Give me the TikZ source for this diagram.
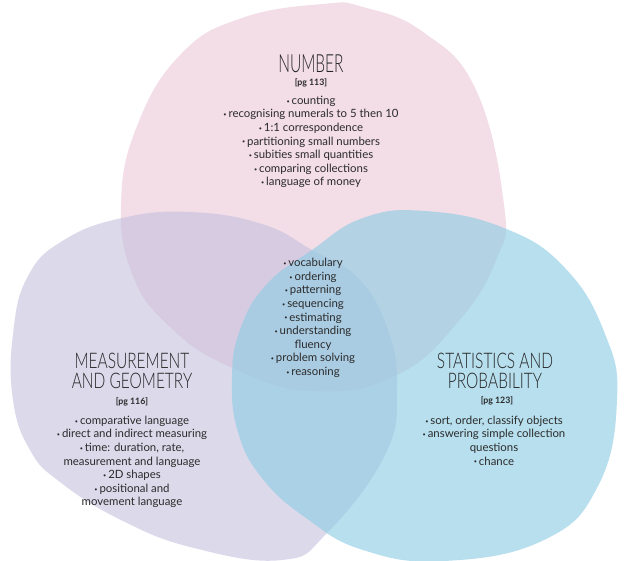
\documentclass[tikz,border=0pt]{standalone}
\usepackage{fontspec}
\setmainfont{Lato}
\newfontfamily\titlefont[FakeStretch=0.72]{Lato Light}
\newfontfamily\titlefontn[FakeStretch=0.62]{Lato Light}
\definecolor{pinkc}{HTML}{F3DDE7}
\definecolor{purpc}{HTML}{C5C0DE}
\definecolor{bluec}{HTML}{91CEE5}
\definecolor{ink}{HTML}{2B2B2B}
\newcommand\bu{{\fontsize{5.5}{5}\selectfont\raisebox{1.2pt}{•}}\,}
\tikzset{
  items/.style={align=center, text=ink, inner sep=0pt, font=\fontsize{11.4}{13.6}\selectfont},
  ttl/.style={align=center, text=black!85, inner sep=0pt, font=\titlefont\fontsize{21.5}{20}\selectfont},
  bigttl/.style={ttl, font=\titlefontn\fontsize{25}{25}\selectfont},
  pg/.style={text=ink, inner sep=0pt, font=\bfseries\fontsize{8.8}{10}\selectfont},
}
\begin{document}
\begin{tikzpicture}[x=1pt,y=-1pt]
\useasboundingbox[fill=white] (0,0) rectangle (634,560);
% blobs
\path[fill=pinkc] plot[smooth cycle, tension=0.75] coordinates {
 (323,4) (363,7) (423,32) (476,90) (504,205) (497,258) (458,322) (395,376)
 (310,391) (226,365) (169,326) (133,276) (121,205) (137,126) (181,54) (242,18)};
\path[fill=purpc, fill opacity=0.6] plot[smooth cycle, tension=0.75] coordinates {
 (190,212) (262,224) (312,250) (358,278) (388,330) (397,390) (385,455) (327,533)
 (282,560) (194,548) (121,520) (60,482) (30,450) (13,400) (13,334) (28,276) (64,240) (122,218)};
\path[fill=bluec, fill opacity=0.65] plot[smooth cycle, tension=0.75] coordinates {
 (425,211) (504,228) (565,268) (605,334) (617,400) (598,486) (544,540) (444,561)
 (363,550) (306,518) (262,478) (238,432) (232,378) (240,330) (266,285) (312,250) (363,218)};
% NUMBER
\node[bigttl] (tnum) at (311,64) {NUMBER};
\node[pg] (pnum) at (311,82.7) {[pg 113]};
\node[items] (inum) at (311,142) {\bu counting\\ \bu recognising numerals to 5 then 10\\ \bu 1:1 correspondence\\ \bu partitioning small numbers\\ \bu subities small quantities\\ \bu comparing collections\\ \bu language of money};
% centre
\node[items] (icen) at (313,318) {\bu vocabulary\\ \bu ordering\\ \bu patterning\\ \bu sequencing\\ \bu estimating\\ \bu understanding\\ fluency\\ \bu problem solving\\ \bu reasoning};
% MEASUREMENT
\node[ttl] (tmea) at (132,371) {MEASUREMENT\\AND GEOMETRY};
\node[pg] (pmea) at (132,402) {[pg 116]};
\node[items] (imea) at (132,462) {\bu comparative language\\ \bu direct and indirect measuring\\ \bu time: duration, rate,\\ measurement and language\\ \bu 2D shapes\\ \bu positional and\\ movement language};
% STATISTICS
\node[ttl] (tsta) at (495,371) {STATISTICS AND\\PROBABILITY};
\node[pg] (psta) at (497,401) {[pg 123]};
\node[items] (ista) at (494,440.5) {\bu sort, order, classify objects\\ \bu answering simple collection\\ questions\\ \bu chance};
\end{tikzpicture}
\end{document}
